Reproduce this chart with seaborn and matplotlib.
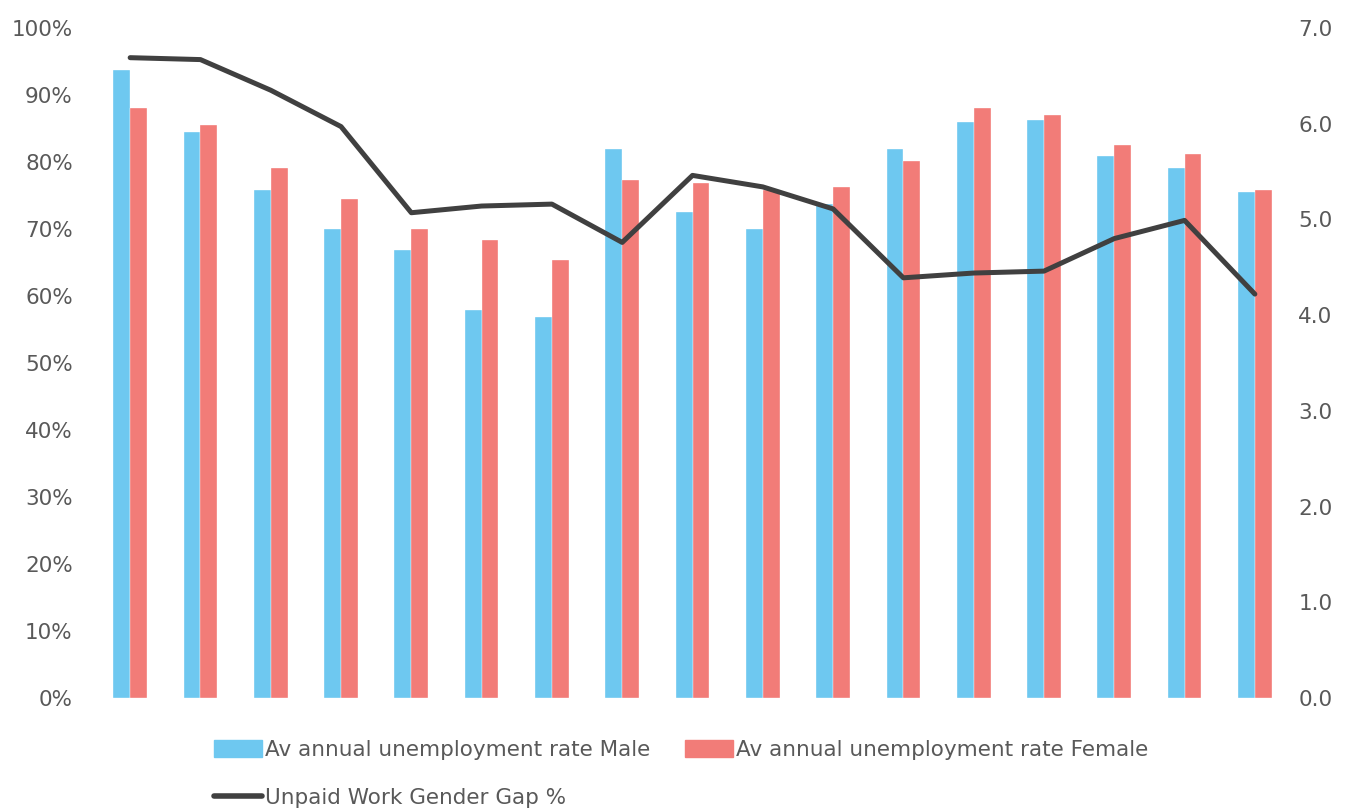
import matplotlib
matplotlib.use("Agg")
import matplotlib.pyplot as plt
from matplotlib.patches import Patch
from matplotlib.lines import Line2D
import matplotlib.ticker as mticker
import numpy as np
import pandas as pd
import seaborn as sns

categories = [str(i) for i in range(1, 18)]
male = [93.7, 84.5, 75.8, 70.0, 66.9, 57.9, 56.9, 81.9, 72.5, 70.0, 73.7, 81.9, 85.9, 86.2, 80.9, 79.1, 75.5]
female = [88.1, 85.5, 79.1, 74.5, 70.0, 68.4, 65.4, 77.3, 76.9, 75.8, 76.2, 80.1, 88.0, 87.0, 82.6, 81.2, 75.8]
gap = [6.69, 6.67, 6.35, 5.97, 5.07, 5.14, 5.16, 4.76, 5.46, 5.34, 5.11, 4.39, 4.44, 4.46, 4.80, 4.99, 4.22]

s_male = "Av annual unemployment rate Male"
s_female = "Av annual unemployment rate Female"
s_gap = "Unpaid Work Gender Gap %"

c_male = "#6EC8F0"
c_female = "#F27C78"
c_line = "#404040"
c_text = "#595959"

sns.set_theme(style="white")
plt.rcParams['font.family'] = ['DejaVu Sans']

df = pd.DataFrame({
    "cat": categories * 2,
    "value": male + female,
    "series": [s_male] * len(categories) + [s_female] * len(categories),
})

fig = plt.figure(figsize=(13.47, 8.08), dpi=100)
ax = fig.add_axes([95 / 1347, 1 - 698 / 808, (1290 - 95) / 1347, (698 - 28) / 808])

sns.barplot(data=df, x="cat", y="value", hue="series", order=categories,
            hue_order=[s_male, s_female], palette=[c_male, c_female],
            width=0.48, ax=ax, legend=False, saturation=1,
            edgecolor="white", linewidth=0.25)
ax.set_ylim(0, 100)
ax.set_xlim(-0.5, len(categories) - 0.5)
ax.yaxis.set_major_locator(mticker.MultipleLocator(10))
ax.yaxis.set_major_formatter(mticker.FuncFormatter(lambda v, p: f"{int(round(v))}%"))
ax.set_xlabel("")
ax.set_ylabel("")
ax.set_xticks([])
ax.tick_params(axis="y", length=0, labelsize=15.5, colors=c_text, pad=16)

ax2 = ax.twinx()
sns.lineplot(x=np.arange(len(categories)), y=gap, ax=ax2, color=c_line,
             linewidth=3.6, legend=False)
ax2.set_ylim(0, 7)
ax2.yaxis.set_major_locator(mticker.MultipleLocator(1))
ax2.yaxis.set_major_formatter(mticker.FuncFormatter(lambda v, p: f"{v:.1f}"))
ax2.set_ylabel("")
ax2.tick_params(axis="y", length=0, labelsize=15.5, colors=c_text, pad=6)
ax2.set_xlim(-0.5, len(categories) - 0.5)

for a in (ax, ax2):
    for sp in a.spines.values():
        sp.set_visible(False)

handles = [Patch(facecolor=c_male, edgecolor=c_male),
           Line2D([0], [0], color=c_line, linewidth=4),
           Patch(facecolor=c_female, edgecolor=c_female)]
labels = [s_male, s_gap, s_female]
leg = fig.legend(handles, labels, ncol=2, loc="upper left",
                 bbox_to_anchor=(214 / 1347, 1 - 740 / 808), frameon=False,
                 fontsize=15.5, handlelength=2.25, handleheight=0.8, handletextpad=0.12,
                 columnspacing=1.6, labelspacing=1.3, borderaxespad=0, borderpad=0)
for t in leg.get_texts():
    t.set_color(c_text)

fig.savefig("out.png", dpi=100, facecolor="white")
